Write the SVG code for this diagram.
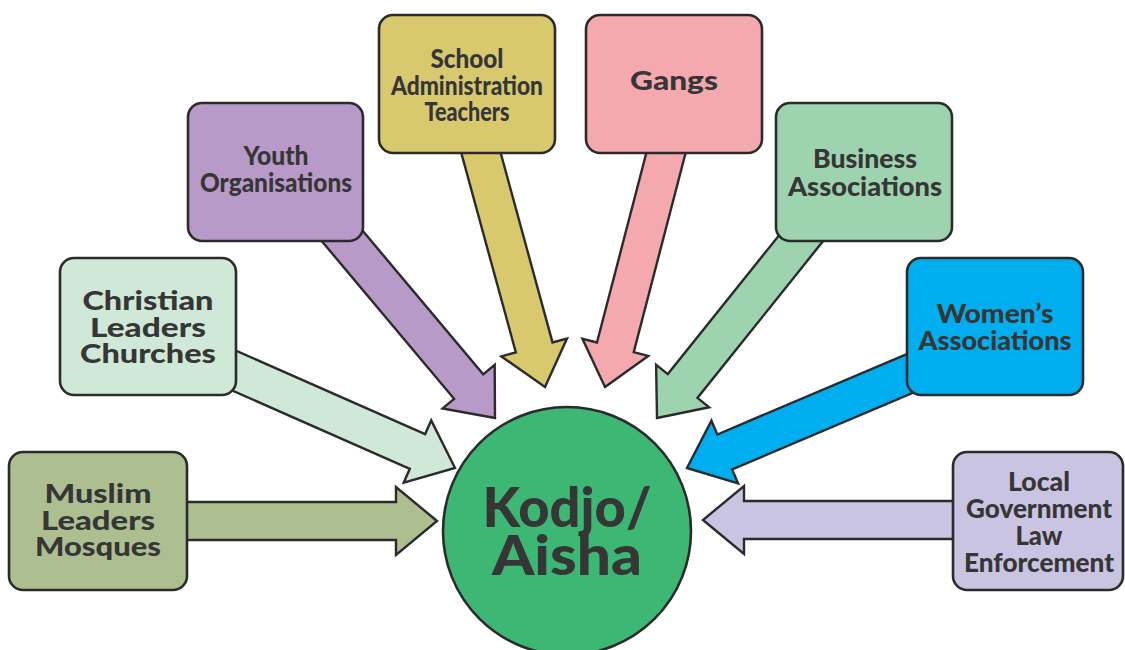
<svg xmlns="http://www.w3.org/2000/svg" width="1125" height="650" viewBox="0 0 1125 650">
  <style>
    .box { stroke: #2b2b2b; stroke-width: 2.6; }
    .arrow { stroke: #2b2b2b; stroke-width: 2.4; stroke-linejoin: miter; stroke-miterlimit: 10; }
    .lbl { font-family: Lato, "Open Sans", "Liberation Sans", sans-serif; font-weight: 900; font-size: 26px; fill: #363636; text-anchor: middle; }
    .hub { font-family: Lato, "Open Sans", "Liberation Sans", sans-serif; font-weight: 900; font-size: 56px; fill: #363636; text-anchor: middle; }
  </style>
  <rect width="1125" height="650" fill="#ffffff"/>

  <!-- block arrows: tip at local origin, pointing along +x -->
  <g id="connectors">
    <path class="arrow" fill="#adbf91" transform="translate(437,521) rotate(0)" d="M0,0 L-41,-34 L-41,-19 L-340,-19 L-340,19 L-41,19 L-41,34 Z"/>
    <path class="arrow" fill="#cfe8d7" transform="translate(455,468) rotate(23.8)" d="M0,0 L-41,-34 L-41,-19 L-300,-19 L-300,19 L-41,19 L-41,34 Z"/>
    <path class="arrow" fill="#b89ac9" transform="translate(495,418) rotate(50)" d="M0,0 L-41,-34 L-41,-19 L-280,-19 L-280,19 L-41,19 L-41,34 Z"/>
    <path class="arrow" fill="#d8c96f" transform="translate(545,387) rotate(74.7)" d="M0,0 L-41,-34 L-41,-19 L-280,-19 L-280,19 L-41,19 L-41,34 Z"/>
    <path class="arrow" fill="#f4a9ae" transform="translate(605,387) rotate(104.6)" d="M0,0 L-41,-34 L-41,-19 L-280,-19 L-280,19 L-41,19 L-41,34 Z"/>
    <path class="arrow" fill="#9ed3b0" transform="translate(657,418) rotate(128.7)" d="M0,0 L-41,-34 L-41,-19 L-280,-19 L-280,19 L-41,19 L-41,34 Z"/>
    <path class="arrow" fill="#00aeef" transform="translate(687,468) rotate(157)" d="M0,0 L-41,-34 L-41,-19 L-300,-19 L-300,19 L-41,19 L-41,34 Z"/>
    <path class="arrow" fill="#c8c4e2" transform="translate(703,520) rotate(180)" d="M0,0 L-41,-34 L-41,-19 L-330,-19 L-330,19 L-41,19 L-41,34 Z"/>
  </g>

  <g id="hub">
    <circle class="box" cx="567" cy="531" r="124" fill="#3db874"/>
    <text class="hub" x="567" y="527" textLength="169" lengthAdjust="spacingAndGlyphs">Kodjo/</text>
    <text class="hub" x="567" y="575" textLength="150" lengthAdjust="spacingAndGlyphs">Aisha</text>
  </g>

  <g id="muslim">
    <rect class="box" x="9" y="452" width="178" height="138" rx="14" fill="#adbf91"/>
    <text class="lbl" x="98" y="503" textLength="107" lengthAdjust="spacingAndGlyphs">Muslim</text>
    <text class="lbl" x="98" y="530" textLength="114" lengthAdjust="spacingAndGlyphs">Leaders</text>
    <text class="lbl" x="98" y="556" textLength="126" lengthAdjust="spacingAndGlyphs">Mosques</text>
  </g>

  <g id="christian">
    <rect class="box" x="60" y="258" width="176" height="137" rx="14" fill="#cfe8d7"/>
    <text class="lbl" x="148" y="310" textLength="131" lengthAdjust="spacingAndGlyphs">Christian</text>
    <text class="lbl" x="148" y="337" textLength="116" lengthAdjust="spacingAndGlyphs">Leaders</text>
    <text class="lbl" x="148" y="363" textLength="136" lengthAdjust="spacingAndGlyphs">Churches</text>
  </g>

  <g id="youth">
    <rect class="box" x="188" y="103" width="175" height="138" rx="14" fill="#b89ac9"/>
    <text class="lbl" x="276" y="165" textLength="65" lengthAdjust="spacingAndGlyphs">Youth</text>
    <text class="lbl" x="276" y="192" textLength="152" lengthAdjust="spacingAndGlyphs">Organisations</text>
  </g>

  <g id="school">
    <rect class="box" x="379" y="15" width="176" height="138" rx="14" fill="#d8c96f"/>
    <text class="lbl" x="467" y="68" textLength="73" lengthAdjust="spacingAndGlyphs">School</text>
    <text class="lbl" x="467" y="95" textLength="152" lengthAdjust="spacingAndGlyphs">Administration</text>
    <text class="lbl" x="467" y="121" textLength="85" lengthAdjust="spacingAndGlyphs">Teachers</text>
  </g>

  <g id="gangs">
    <rect class="box" x="586" y="15" width="176" height="138" rx="14" fill="#f4a9ae"/>
    <text class="lbl" x="674" y="90" textLength="88" lengthAdjust="spacingAndGlyphs">Gangs</text>
  </g>

  <g id="business">
    <rect class="box" x="776" y="103" width="176" height="138" rx="14" fill="#9ed3b0"/>
    <text class="lbl" x="865" y="168" textLength="104" lengthAdjust="spacingAndGlyphs">Business</text>
    <text class="lbl" x="865" y="196" textLength="154" lengthAdjust="spacingAndGlyphs">Associations</text>
  </g>

  <g id="womens">
    <rect class="box" x="907" y="258" width="176" height="137" rx="14" fill="#00aeef"/>
    <text class="lbl" x="995" y="323" textLength="117" lengthAdjust="spacingAndGlyphs">Women’s</text>
    <text class="lbl" x="995" y="350" textLength="153" lengthAdjust="spacingAndGlyphs">Associations</text>
  </g>

  <g id="local-government">
    <rect class="box" x="953" y="452" width="170" height="138" rx="14" fill="#c8c4e2"/>
    <text class="lbl" x="1039" y="491" textLength="62" lengthAdjust="spacingAndGlyphs">Local</text>
    <text class="lbl" x="1039" y="518" textLength="146" lengthAdjust="spacingAndGlyphs">Government</text>
    <text class="lbl" x="1039" y="545" textLength="47" lengthAdjust="spacingAndGlyphs">Law</text>
    <text class="lbl" x="1039" y="572" textLength="150" lengthAdjust="spacingAndGlyphs">Enforcement</text>
  </g>
</svg>
